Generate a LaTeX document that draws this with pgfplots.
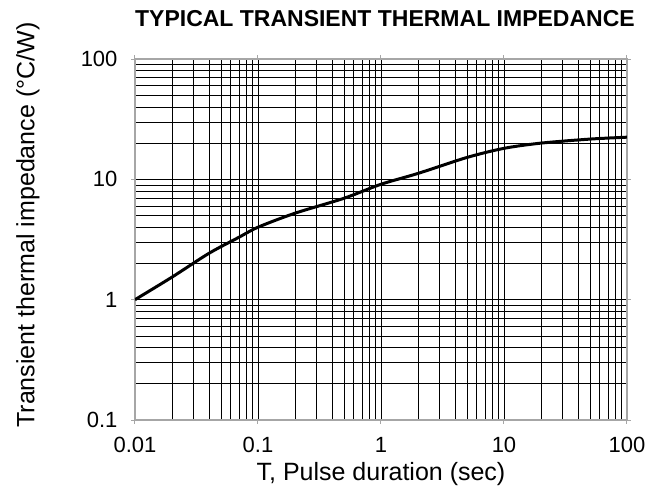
\documentclass[border=0pt]{standalone}
\usepackage{fontspec}
\setmainfont{Liberation Sans}
\usepackage{pgfplots}
\pgfplotsset{compat=1.18}

\begin{document}
\begin{tikzpicture}
\path[use as bounding box] (-135pt,-68pt) rectangle (529pt,420pt);
\begin{axis}[at={(0,0)},anchor=south west,
  scale only axis,width=492pt,height=361pt,
  xmode=log,ymode=log,
  xmin=0.01,xmax=100,ymin=0.1,ymax=100,
  xtick={0.01,0.1,1,10,100},xticklabels={0.01,0.1,1,10,100},
  ytick={0.1,1,10,100},yticklabels={0.1,1,10,100},
  minor xtick={0.02,0.03,0.04,0.05,0.06,0.07,0.08,0.09,
    0.2,0.3,0.4,0.5,0.6,0.7,0.8,0.9,2,3,4,5,6,7,8,9,
    20,30,40,50,60,70,80,90},
  minor ytick={0.2,0.3,0.4,0.5,0.6,0.7,0.8,0.9,2,3,4,5,6,7,8,9,
    20,30,40,50,60,70,80,90},
  /pgf/number format/assume math mode=true,
  tick label style={font=\fontsize{22}{26}\selectfont},
  xticklabel style={anchor=base,yshift=-29pt},
  yticklabel style={anchor=east,xshift=-10pt},
  grid=both,
  major grid style={black,line width=0.7pt},
  minor grid style={black,line width=0.6pt},
  axis line style={gray!70,line width=1.2pt},
  tick align=outside,major tick length=4pt,minor tick length=0pt,
  tick style={gray!70,line width=1pt},
  xlabel={T, Pulse duration (sec)},
  ylabel={Transient thermal impedance (\textdegree C/W)},
  label style={font=\fontsize{25}{30}\selectfont},
  xlabel style={at={(axis description cs:0.5,0)},anchor=center,yshift=-54pt},
  ylabel style={at={(axis description cs:-0.2175,0.54)},anchor=center},
  title={TYPICAL TRANSIENT THERMAL IMPEDANCE},
  title style={font=\bfseries\fontsize{23}{27}\selectfont,at={(axis description cs:0.508,1)},anchor=center,yshift=34pt},
]
\addplot[black,line width=3pt,smooth] coordinates {
(0.01,1.0) (0.02,1.54) (0.04,2.43) (0.07,3.3) (0.1,4.0) (0.2,5.23)
(0.5,6.96) (1,9.1) (2,11.2) (5,15.2) (10,18.1) (20,20.0) (50,21.6) (100,22.4)
};
\end{axis}
\end{tikzpicture}
\end{document}
